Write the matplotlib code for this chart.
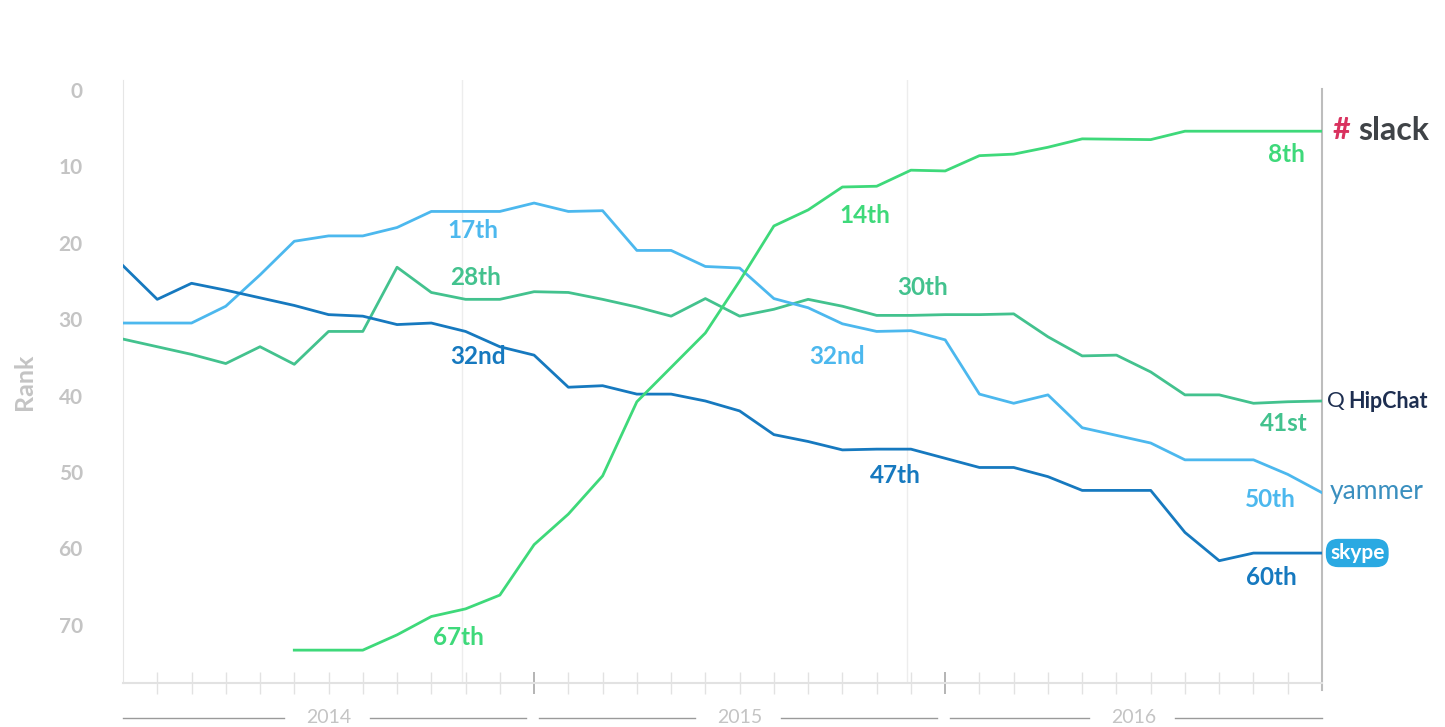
import numpy as np
import matplotlib.pyplot as plt
from matplotlib.transforms import blended_transform_factory

plt.rcParams['font.family'] = ['Lato', 'DejaVu Sans']

# monthly index, Jan 2014 = 0 ... Dec 2016 = 35
months = np.arange(36)

yammer = [30.5, 30.5, 30.5, 28.3, 24.2, 19.8, 19.1, 19.1, 18.0, 15.9, 15.9, 15.9,
          14.8, 15.9, 15.8, 21.0, 21.0, 23.1, 23.3, 27.3, 28.5, 30.6, 31.6, 31.5,
          32.7, 39.8, 41.0, 39.9, 44.2, 45.2, 46.2, 48.4, 48.4, 48.4, 50.3, 52.7]
skype = [23.0, 27.4, 25.3, 26.2, 27.2, 28.2, 29.4, 29.6, 30.7, 30.5, 31.6, 33.6,
         34.7, 38.9, 38.7, 39.8, 39.8, 40.7, 42.0, 45.1, 46.0, 47.1, 47.0, 47.0,
         48.2, 49.4, 49.4, 50.6, 52.4, 52.4, 52.4, 57.9, 61.6, 60.6, 60.6, 60.6]
hipchat = [32.6, 33.6, 34.6, 35.8, 33.6, 35.9, 31.6, 31.6, 23.2, 26.5, 27.4, 27.4,
           26.4, 26.5, 27.4, 28.4, 29.6, 27.3, 29.6, 28.7, 27.4, 28.3, 29.5, 29.5,
           29.4, 29.4, 29.3, 32.3, 34.8, 34.7, 36.9, 39.9, 39.9, 41.0, 40.8, 40.7]
slack_months = np.arange(5, 36)
slack = [73.3, 73.3, 73.3, 71.3, 68.9, 67.9, 66.1, 59.5, 55.5, 50.5, 40.8, 36.3,
         31.8, 25.0, 17.8, 15.7, 12.7, 12.6, 10.5, 10.6, 8.6, 8.4, 7.5, 6.4,
         6.45, 6.5, 5.4, 5.4, 5.4, 5.4, 5.4]

years = ["2014", "2015", "2016"]
year_spans = [(0, 12), (12, 24), (24, 35)]

c_yammer = "#4cb8ee"
c_skype = "#1679bf"
c_hipchat = "#43c28e"
c_slack = "#3ed97a"

labels = [
    ("17th", 10.2, 18.4, c_yammer), ("28th", 10.3, 24.6, c_hipchat),
    ("32nd", 10.35, 34.9, c_skype), ("67th", 9.8, 71.6, c_slack),
    ("14th", 21.66, 16.4, c_slack), ("30th", 23.35, 25.8, c_hipchat),
    ("32nd", 20.85, 34.9, c_yammer), ("47th", 22.54, 50.4, c_skype),
    ("8th", 33.96, 8.5, c_slack), ("41st", 33.88, 43.7, c_hipchat),
    ("50th", 33.5, 53.6, c_yammer), ("60th", 33.53, 63.8, c_skype),
]

fig = plt.figure(figsize=(14.45, 7.27), dpi=100)
ax = fig.add_axes([123 / 1445, 1 - 683 / 727, 1199 / 1445, 603 / 727])

ax.plot(months, hipchat, color=c_hipchat, lw=2, zorder=3)
ax.plot(months, yammer, color=c_yammer, lw=2, zorder=3)
ax.plot(months, skype, color=c_skype, lw=2, zorder=3)
ax.plot(slack_months, slack, color=c_slack, lw=2, zorder=3)

for txt, x, y, c in labels:
    ax.text(x, y, txt, color=c, fontsize=17.5, fontweight="bold",
            ha="center", va="center", zorder=4)

ax.set_xlim(0, 35)
ax.set_ylim(77.6, -1.3)
ax.set_yticks(range(0, 80, 10))
ax.tick_params(axis="y", length=0, pad=29, labelsize=15, labelcolor="#c4c4c4")
for t in ax.get_yticklabels():
    t.set_fontweight("bold")
ax.set_ylabel("Rank", fontsize=18, color="#c4c4c4", fontweight="bold", labelpad=16)

ax.set_xticks([12, 24])
ax.set_xticks(range(1, 35), minor=True)
ax.set_xticklabels([])
ax.tick_params(axis="x", which="major", direction="inout", length=16, width=1.2, color="#a8a8a8")
ax.tick_params(axis="x", which="minor", direction="inout", length=16, width=1, color="#e2e2e2")

for s in ["top", "right"]:
    ax.spines[s].set_visible(False)
ax.spines["left"].set_color("#e6e6e6")
ax.spines["bottom"].set_color("#e2e2e2")
ax.spines["bottom"].set_linewidth(1.5)

for gx in [9.9, 22.9]:
    ax.axvline(gx, color="#ededed", lw=1, zorder=1)

# right edge marker
trans = blended_transform_factory(ax.transData, ax.transAxes)
ax.plot([35, 35], [-0.012, 0.985], transform=trans, color="#bdbdbd", lw=1.5, clip_on=False)

# year labels with rules
for yr, (a, b) in zip(years, year_spans):
    mid = (a + b) / 2
    start = a + 0.15 if a > 0 else a
    end = b - 0.25 if b < 35 else b
    ax.plot([start, mid - 1.3], [-0.058, -0.058], transform=trans, color="#9a9a9a", lw=1, clip_on=False)
    ax.plot([mid + 1.2, end], [-0.058, -0.058], transform=trans, color="#9a9a9a", lw=1, clip_on=False)
    ax.text(mid, -0.058, yr, transform=trans, ha="center", va="center",
            fontsize=14, color="#c4c4c4")

# brand names on the right
fig.text(1333 / 1445, 1 - 130 / 727, "#", color="#d9325f", fontsize=22, fontweight="bold", va="center")
fig.text(1358 / 1445, 1 - 130 / 727, "slack", color="#3f4347", fontsize=23, fontweight="bold", va="center")
fig.text(1327 / 1445, 1 - 401 / 727, "Q", color="#1d2e50", fontsize=16, va="center")
fig.text(1348 / 1445, 1 - 401 / 727, "HipChat", color="#1d2e50", fontsize=15.5, fontweight="bold", va="center")
fig.text(1330 / 1445, 1 - 492 / 727, "yammer", color="#3a8fbf", fontsize=19, va="center")
fig.text(1330 / 1445, 1 - 553 / 727, "skype", color="white", fontsize=15, fontweight="bold", va="center",
         bbox=dict(boxstyle="round,pad=0.2,rounding_size=0.6", fc="#2aa9e2", ec="none"))

fig.savefig("out.png", dpi=100)
